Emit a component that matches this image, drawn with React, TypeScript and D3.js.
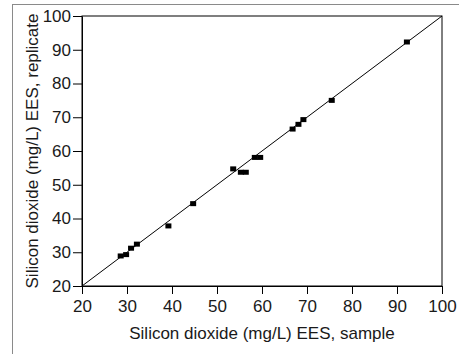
import { useEffect, useRef } from 'react'
import * as d3 from 'd3'

// sample value (x) vs replicate value (y), mg/L
const sampleVals = [28.6, 29.8, 30.9, 32.2, 39.2, 44.7, 53.6, 55.3, 56.4, 58.4, 59.6, 66.8, 68.1, 69.2, 75.5, 92.2]
const replicateVals = [28.9, 29.3, 31.2, 32.4, 37.8, 44.4, 54.7, 53.7, 53.7, 58.1, 58.1, 66.5, 67.9, 69.3, 75.0, 92.3]
const tickVals = [20, 30, 40, 50, 60, 70, 80, 90, 100]

const W = 459
const H = 354
const FONT = '"Liberation Sans", Arial, sans-serif'

export default function App() {
  const ref = useRef<SVGSVGElement | null>(null)

  useEffect(() => {
    const svg = d3.select(ref.current)
    svg.selectAll('*').remove()

    const margin = { top: 16, right: 17, bottom: 68, left: 82 }
    const width = W - margin.left - margin.right
    const height = H - margin.top - margin.bottom

    // outer figure frame (gray)
    svg.append('rect')
      .attr('x', 12.5).attr('y', 4.5)
      .attr('width', W + 10).attr('height', H + 10)
      .attr('fill', 'none').attr('stroke', '#8a8a8a').attr('stroke-width', 1)

    const chart = svg.append('g').attr('transform', `translate(${margin.left},${margin.top})`)

    const x = d3.scaleLinear().domain([20, 100]).range([0, width])
    const y = d3.scaleLinear().domain([20, 100]).range([height, 0])

    // plot box
    chart.append('rect')
      .attr('x', 0).attr('y', 0).attr('width', width).attr('height', height)
      .attr('fill', 'none').attr('stroke', '#000').attr('stroke-width', 1)

    const xAxis = chart.append('g')
      .attr('transform', `translate(0,${height})`)
      .call(d3.axisBottom(x).tickValues(tickVals).tickSize(8).tickPadding(6).tickSizeOuter(0))
    const yAxis = chart.append('g')
      .call(d3.axisLeft(y).tickValues(tickVals).tickSize(9).tickPadding(2).tickSizeOuter(0))

    ;[xAxis, yAxis].forEach((g) => {
      g.select('.domain').attr('stroke', '#000')
      g.selectAll('.tick line').attr('stroke', '#000')
      g.selectAll('.tick text')
        .attr('fill', '#1a1a1a')
        .style('font-family', FONT)
        .style('font-size', '17px')
    })

    // 1:1 line
    chart.append('line')
      .attr('x1', x(20)).attr('y1', y(20))
      .attr('x2', x(100)).attr('y2', y(100))
      .attr('stroke', '#000').attr('stroke-width', 1)

    // points
    const pts = sampleVals.map((v, i) => ({ sx: v, ry: replicateVals[i] }))
    chart.selectAll('.pt')
      .data(pts)
      .enter()
      .append('rect')
      .attr('class', 'pt')
      .attr('x', (d) => x(d.sx) - 3)
      .attr('y', (d) => y(d.ry) - 2.5)
      .attr('width', 6)
      .attr('height', 5)
      .attr('fill', '#000')

    // axis titles
    svg.append('text')
      .attr('x', margin.left + width / 2)
      .attr('y', 339)
      .attr('text-anchor', 'middle')
      .attr('fill', '#1a1a1a')
      .style('font-family', FONT)
      .style('font-size', '17px')
      .text('Silicon dioxide (mg/L) EES, sample')

    svg.append('text')
      .attr('transform', `translate(38,${margin.top + height / 2}) rotate(-90)`)
      .attr('text-anchor', 'middle')
      .attr('fill', '#1a1a1a')
      .style('font-family', FONT)
      .style('font-size', '17px')
      .text('Silicon dioxide (mg/L) EES, replicate')
  }, [])

  return (
    <svg
      ref={ref}
      width={W}
      height={H}
      style={{ position: 'absolute', left: 0, top: 0, background: '#fff' }}
    />
  )
}
